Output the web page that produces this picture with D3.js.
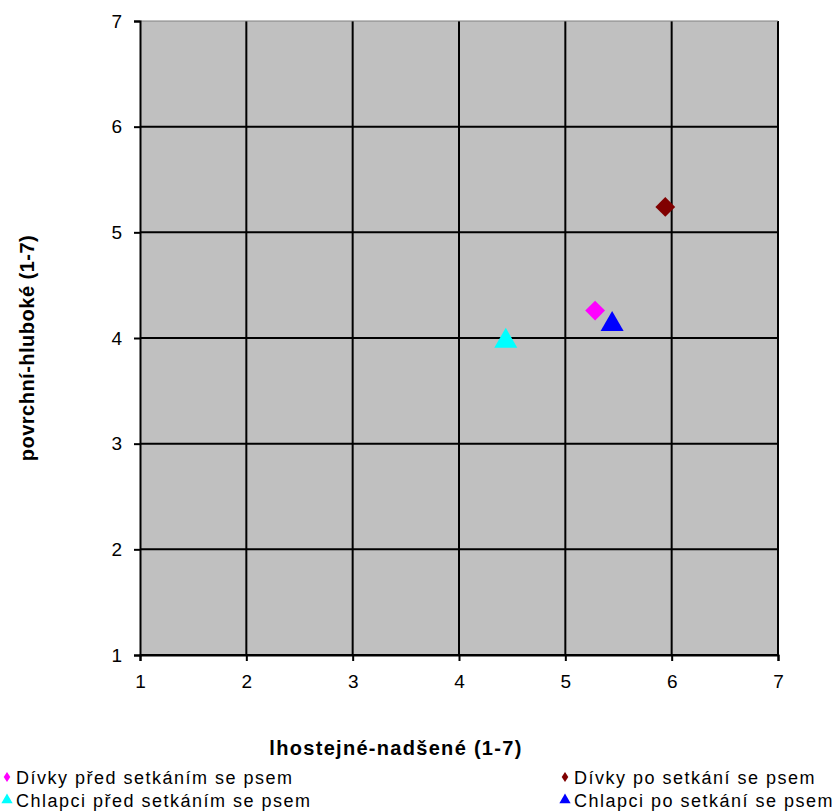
<!DOCTYPE html>
<html>
<head>
<meta charset="utf-8">
<style>
  body { margin: 0; background: #fff; }
  svg { display: block; font-family: "Liberation Sans", Arial, sans-serif; }
</style>
</head>
<body>
<svg width="837" height="812"></svg>
<script src="https://cdn.jsdelivr.net/npm/d3@7"></script>
<script>
// data
var seriesNames = ["Dívky před setkáním se psem", "Dívky po setkání se psem",
                   "Chlapci před setkáním se psem", "Chlapci po setkání se psem"];
var xValues = [5.28, 5.94, 4.44, 5.44];
var yValues = [4.26, 5.24, 3.97, 4.13];
var shapes = ["diamond", "diamond", "triangle", "triangle"];
var colors = ["#ff00ff", "#800000", "#00ffff", "#0000ff"];
var ticks = [1, 2, 3, 4, 5, 6, 7];

var svg = d3.select("svg");
var plotLeft = 140, plotRight = 778, plotTop = 21, plotBottom = 655;

var x = d3.scaleLinear().domain([1, 7]).range([plotLeft, plotRight]);
var y = d3.scaleLinear().domain([1, 7]).range([plotBottom, plotTop]);

svg.append("rect")
    .attr("x", plotLeft).attr("y", plotTop)
    .attr("width", plotRight - plotLeft).attr("height", plotBottom - plotTop)
    .attr("fill", "#c0c0c0");

// grid
svg.append("g").selectAll("line")
  .data(ticks.slice(1))
  .enter().append("line")
    .attr("x1", function(d) { return x(d); }).attr("x2", function(d) { return x(d); })
    .attr("y1", plotTop).attr("y2", plotBottom)
    .attr("stroke", "#000").attr("stroke-width", 2);
svg.append("g").selectAll("line")
  .data(ticks.slice(0, -1))
  .enter().append("line")
    .attr("y1", function(d) { return y(d); }).attr("y2", function(d) { return y(d); })
    .attr("x1", plotLeft).attr("x2", plotRight)
    .attr("stroke", "#000").attr("stroke-width", 2);

// top border of plot
svg.append("line").attr("x1", plotLeft).attr("x2", plotRight).attr("y1", plotTop).attr("y2", plotTop)
    .attr("stroke", "#808080").attr("stroke-width", 1);

var xAxis = svg.append("g")
    .attr("transform", "translate(0," + plotBottom + ")")
    .call(d3.axisBottom(x).tickValues(ticks).tickSize(6).tickPadding(14).tickFormat(d3.format("d")));
var yAxis = svg.append("g")
    .attr("transform", "translate(" + plotLeft + ",0)")
    .call(d3.axisLeft(y).tickValues(ticks).tickSize(6).tickPadding(12).tickFormat(d3.format("d")));

[xAxis, yAxis].forEach(function(a) {
  a.select(".domain").attr("stroke", "#000").attr("stroke-width", 2);
  a.selectAll(".tick line").attr("stroke", "#000").attr("stroke-width", 2);
  a.selectAll(".tick text").attr("fill", "#000")
      .style("font-family", "'Liberation Sans', Arial, sans-serif").style("font-size", "19px");
});

// axis titles
svg.append("text")
    .attr("x", 396).attr("y", 755)
    .attr("text-anchor", "middle")
    .style("font-size", "20px").style("font-weight", "bold").style("letter-spacing", "1.3px")
    .text("lhostejné-nadšené (1-7)");
svg.append("text")
    .attr("transform", "translate(34," + 348 + ") rotate(-90)")
    .attr("text-anchor", "middle")
    .style("font-size", "20px").style("font-weight", "bold").style("letter-spacing", "0.5px")
    .text("povrchní-hluboké (1-7)");

var pts = d3.range(seriesNames.length);

svg.append("g").selectAll("path")
  .data(pts)
  .enter().append("path")
    .attr("d", function(i) {
      return shapes[i] === "diamond"
        ? d3.symbol().type(d3.symbolSquare).size(196)()
        : d3.symbol().type(d3.symbolTriangle).size(230)();
    })
    .attr("transform", function(i) {
      return "translate(" + x(xValues[i]) + "," + y(yValues[i]) + ")" + (shapes[i] === "diamond" ? " rotate(45)" : "");
    })
    .attr("fill", function(i) { return colors[i]; });

// legend
var legendX = [0, 558], legendY = [777, 800];
var leg = svg.append("g").selectAll("g")
  .data(pts)
  .enter().append("g")
    .attr("transform", function(i) { return "translate(" + legendX[i % 2] + "," + legendY[Math.floor(i / 2)] + ")"; });
leg.append("path")
    .attr("d", function(i) {
      return shapes[i] === "diamond"
        ? d3.symbol().type(d3.symbolSquare).size(34)()
        : d3.symbol().type(d3.symbolTriangle).size(55)();
    })
    .attr("transform", function(i) { return "translate(7,0)" + (shapes[i] === "diamond" ? " scale(0.8,1.2) rotate(45)" : ""); })
    .attr("fill", function(i) { return colors[i]; });
leg.append("text")
    .attr("x", 16).attr("y", 6.5)
    .style("font-size", "18px").style("letter-spacing", "1.5px")
    .text(function(i) { return seriesNames[i]; });
</script>
</body>
</html>
